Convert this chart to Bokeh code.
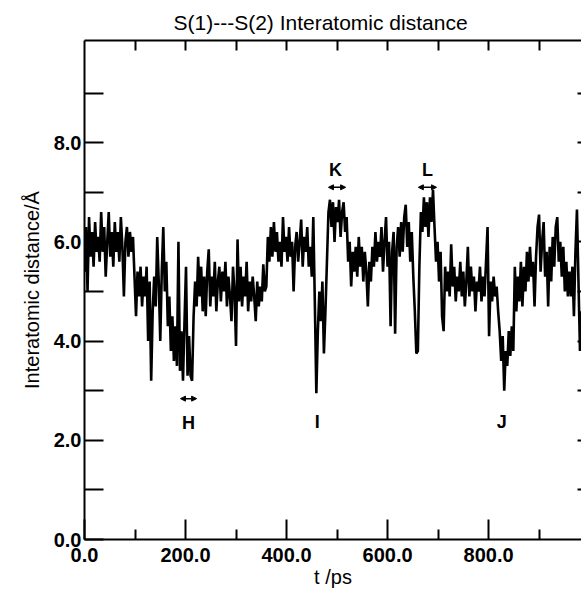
from bokeh.plotting import figure
from bokeh.models import (LinearAxis, FixedTicker, PrintfTickFormatter, Range1d,
                          Arrow, NormalHead, ColumnDataSource, LabelSet)
from bokeh.core.properties import value
from bokeh.embed import file_html
from bokeh.resources import INLINE

FONT = "Liberation Sans"

dist = [
    5.4, 6.3, 5.0, 6.5, 5.7, 6.2, 5.5, 6.4, 5.8, 6.1,
    5.6, 6.6, 5.8, 6.3, 5.3, 6.0, 6.6, 5.7, 6.2, 5.5,
    6.4, 5.8, 6.2, 5.6, 6.5, 5.9, 4.9, 6.0, 6.3, 5.7,
    6.2, 5.8, 6.1, 5.3, 4.5, 5.4, 4.9, 5.5, 4.7, 5.3,
    4.9, 5.5, 4.0, 5.2, 3.2, 4.6, 5.3, 4.7, 6.1, 5.2,
    4.0, 5.4, 6.3, 5.0, 5.6, 4.3, 4.9, 3.8, 4.5, 3.6,
    4.3, 3.5, 6.0, 3.4, 4.2, 3.2, 4.4, 5.5, 3.3, 4.1,
    3.3, 3.2, 4.5, 5.2, 4.7, 5.7, 4.9, 5.5, 4.6, 5.3,
    4.5, 5.4, 5.85, 4.7, 5.3, 4.9, 5.6, 4.6, 5.2, 5.5,
    4.8, 5.4, 5.0, 5.6, 4.7, 5.3, 4.9, 4.4, 5.5, 5.0,
    3.9, 6.05, 4.8, 5.5, 4.7, 5.3, 4.9, 5.6, 4.6, 5.2,
    4.8, 5.3, 4.9, 4.4, 5.2, 4.7, 5.1, 4.8, 5.55, 5.0,
    5.1, 6.1, 5.6, 6.3, 5.7, 6.4, 5.8, 6.2, 5.6, 6.0,
    5.5, 6.5, 5.8, 6.1, 5.6, 6.3, 5.7, 6.0, 5.0, 5.9,
    6.2, 5.6, 6.0, 6.45, 5.5, 6.1, 5.8, 6.3, 5.5, 5.9,
    5.3, 6.5, 4.8, 2.95, 4.2, 5.0, 4.4, 5.2, 3.75, 4.6,
    5.6, 6.6, 6.85, 6.3, 6.8, 6.0, 6.7, 6.4, 6.85, 6.1,
    6.6, 6.8, 6.2, 6.5, 5.6, 6.0, 5.1, 5.8, 5.4, 5.9,
    5.3, 6.1, 5.5, 5.9, 5.2, 5.8, 5.4, 4.7, 5.6, 5.2,
    5.9, 5.5, 6.2, 5.6, 6.0, 5.7, 6.3, 5.4, 6.0, 6.5,
    5.5, 6.0, 4.3, 5.8, 6.2, 4.15, 5.9, 6.3, 5.7, 6.4,
    5.8, 6.5, 6.75, 5.9, 6.4, 5.6, 6.2, 5.3, 4.6, 3.75,
    3.8, 5.5, 6.6, 6.2, 6.9, 6.3, 6.8, 6.1, 6.9, 6.4,
    7.05, 6.3, 5.6, 6.0, 5.2, 5.8, 4.5, 4.2, 5.5, 5.0,
    5.4, 4.9, 5.95, 5.1, 5.5, 4.8, 5.3, 5.0, 5.6, 4.9,
    5.4, 4.7, 5.2, 5.9, 4.9, 5.5, 5.0, 5.3, 4.6, 5.2,
    5.0, 5.5, 4.8, 5.3, 4.9, 5.6, 6.3, 4.1, 5.2, 4.8,
    5.3, 4.9, 5.1, 4.6, 4.2, 3.6, 4.1, 3.0, 3.8, 3.5,
    4.2, 3.7, 4.3, 3.8, 5.5, 4.6, 5.3, 4.8, 5.6, 4.7,
    5.5, 5.0, 5.8, 5.2, 5.9, 5.3, 5.6, 4.7, 5.7, 6.3,
    6.55, 5.4, 6.0, 6.4, 5.3, 5.8, 4.7, 5.9, 5.2, 6.1,
    5.5, 6.3, 6.5, 5.6, 6.0, 5.3, 5.9, 5.0, 5.6, 4.9,
    5.4, 4.9, 5.5, 4.5, 5.8, 6.65, 5.2, 3.8, 4.6,
]
time_step_ps = 3
t_ps = [i * time_step_ps for i in range(len(dist))]

x_major = [0, 200, 400, 600, 800]
x_minor = [100, 300, 500, 700, 900]
x_top = [100, 200, 300, 400, 500, 600, 700, 800, 900]
y_major = [0, 2, 4, 6, 8]
y_minor = [1, 3, 5, 7, 9]
y_right = [1, 2, 3, 4, 5, 6, 7, 8, 9]

mark_text = ["H", "I", "J", "K", "L"]
mark_x = [206, 461, 826, 497, 679]
mark_y = [2.34, 2.36, 2.36, 7.44, 7.44]

arrow_x0 = [190, 483, 661]
arrow_x1 = [222, 517, 697]
arrow_y = [2.84, 7.10, 7.10]

p = figure(width=581, height=590, output_backend="svg", toolbar_location=None,
           x_range=Range1d(0, 984), y_range=Range1d(0, 10.06),
           x_axis_location=None, y_axis_location=None,
           min_border_left=84, min_border_right=0, min_border_top=40,
           min_border_bottom=51)
p.outline_line_color = None
p.grid.visible = False
p.xgrid.visible = False
p.ygrid.visible = False
p.background_fill_color = "white"
p.border_fill_color = "white"

p.title.text = "S(1)---S(2) Interatomic distance"
p.title.text_font = FONT
p.title.text_font_size = "21px"
p.title.text_font_style = "normal"
p.title.text_color = "black"
p.title.align = "left"
p.title.offset = 89
p.title.standoff = 14

def style(ax):
    ax.axis_line_color = "black"
    ax.axis_line_width = 2
    ax.major_tick_line_color = "black"
    ax.major_tick_line_width = 2
    ax.minor_tick_line_color = "black"
    ax.minor_tick_line_width = 2
    ax.major_tick_out = 0
    ax.minor_tick_out = 0
    ax.major_label_text_font = FONT
    ax.major_label_text_font_style = "bold"
    ax.major_label_text_font_size = "20px"
    ax.major_label_text_color = "black"
    ax.axis_label_text_font = FONT
    ax.axis_label_text_font_style = "normal"
    ax.axis_label_text_font_size = "20px"
    ax.axis_label_text_color = "black"

bottom = LinearAxis(ticker=FixedTicker(ticks=x_major, minor_ticks=x_minor),
                    formatter=PrintfTickFormatter(format="%.1f"),
                    axis_label="t /ps")
style(bottom)
bottom.major_tick_in = 20
bottom.minor_tick_in = 10
bottom.major_label_standoff = 8
bottom.axis_label_standoff = 1
p.add_layout(bottom, "below")

left = LinearAxis(ticker=FixedTicker(ticks=y_major, minor_ticks=y_minor),
                  formatter=PrintfTickFormatter(format="%.1f"),
                  axis_label="Interatomic distance/Å")
style(left)
left.major_tick_in = 19
left.minor_tick_in = 19
left.major_label_standoff = 3
left.axis_label_standoff = 8
p.add_layout(left, "left")

top = LinearAxis(ticker=FixedTicker(ticks=x_top, minor_ticks=[]),
                 major_label_overrides={v: "" for v in x_top})
style(top)
top.major_tick_in = 10
top.minor_tick_in = 0
top.major_label_text_font_size = "1px"
top.major_label_standoff = 0
p.add_layout(top, "above")

right = LinearAxis(ticker=FixedTicker(ticks=y_right, minor_ticks=[]),
                   major_label_overrides={v: "" for v in y_right})
style(right)
right.axis_line_color = None
right.major_tick_in = 4
right.minor_tick_in = 0
right.major_label_text_font_size = "1px"
right.major_label_standoff = 0
p.add_layout(right, "right")

p.line(t_ps, dist, line_color="black", line_width=2.6)

marks = ColumnDataSource(dict(x=mark_x, y=mark_y, text=mark_text))
p.add_layout(LabelSet(x="x", y="y", text="text", source=marks,
                      text_font=value(FONT), text_font_style="bold",
                      text_font_size="18px", text_align="center",
                      text_baseline="middle", text_color="black"))

for xa, xb, ya in zip(arrow_x0, arrow_x1, arrow_y):
    p.add_layout(Arrow(start=NormalHead(size=5, fill_color="black", line_color="black"),
                       end=NormalHead(size=5, fill_color="black", line_color="black"),
                       x_start=xa, y_start=ya, x_end=xb, y_end=ya,
                       line_color="black", line_width=1.5))

open("out.html", "w").write(file_html(p, INLINE))
